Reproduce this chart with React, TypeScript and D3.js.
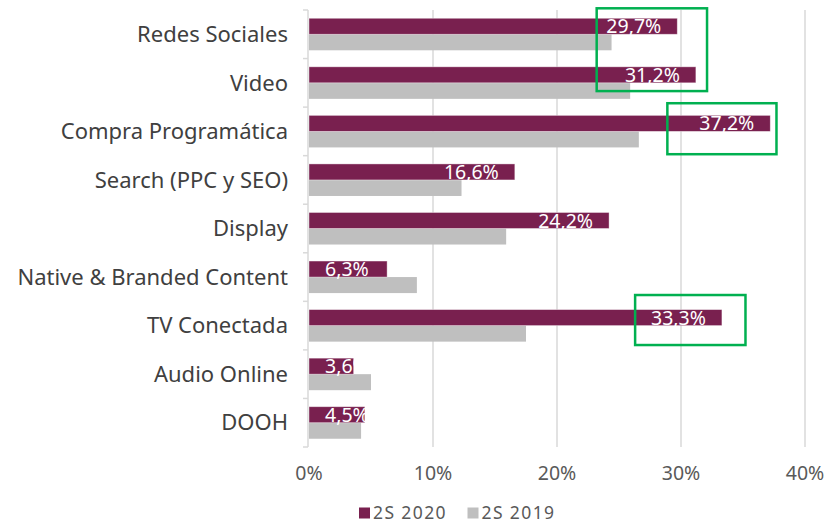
import { useEffect, useRef } from 'react';
import * as d3 from 'd3';

const categories = [
  'Redes Sociales',
  'Video',
  'Compra Programática',
  'Search (PPC y SEO)',
  'Display',
  'Native & Branded Content',
  'TV Conectada',
  'Audio Online',
  'DOOH',
];
const series2020 = [29.7, 31.2, 37.2, 16.6, 24.2, 6.3, 33.3, 3.6, 4.5];
const series2019 = [24.4, 25.9, 26.6, 12.3, 15.9, 8.7, 17.5, 5.0, 4.2];
const xTicks = [0, 10, 20, 30, 40];
const legendLabels = ['2S 2020', '2S 2019'];

// green highlight boxes: [x0 %, x1 %, top category, top fraction, bottom category, bottom fraction]
const highlights: [number, number, string, number, string, number][] = [
  [23.2, 32.1, 'Redes Sociales', -0.035, 'Video', 0.67],
  [28.9, 37.7, 'Video', 0.92, 'Compra Programática', 0.97],
  [26.3, 35.2, 'Native & Branded Content', 0.87, 'TV Conectada', 0.9],
];

const W = 827;
const H = 523;
const MAROON = '#79204F';
const GRAY = '#BFBFBF';
const FONT = '"Noto Sans", "Open Sans", sans-serif';

export default function App() {
  const svgRef = useRef<SVGSVGElement>(null);

  useEffect(() => {
    if (!svgRef.current) return;
    const svg = d3.select(svgRef.current);
    svg.selectAll('*').remove();

    const x = d3.scaleLinear().domain([0, 40]).range([309, 805]);
    const y = d3.scaleBand<string>().domain(categories).range([10, 447]).padding(0);
    const bw = y.bandwidth();
    const barH = bw * 0.33;
    const off = bw * 0.17;

    // gridlines
    svg.append('g')
      .selectAll('line')
      .data(xTicks.slice(1))
      .enter()
      .append('line')
      .attr('x1', d => x(d))
      .attr('x2', d => x(d))
      .attr('y1', 10)
      .attr('y2', 447)
      .attr('stroke', '#D9D9D9')
      .attr('stroke-width', 1.5);

    // left axis with category ticks
    const axis = svg.append('g').attr('stroke', '#D9D9D9').attr('stroke-width', 1.5);
    axis.append('line')
      .attr('x1', x(0) - 1).attr('x2', x(0) - 1)
      .attr('y1', 10).attr('y2', 447);
    axis.selectAll('line.tick')
      .data(d3.range(categories.length + 1))
      .enter()
      .append('line')
      .attr('class', 'tick')
      .attr('x1', x(0) - 6).attr('x2', x(0) - 1)
      .attr('y1', i => 10 + i * bw).attr('y2', i => 10 + i * bw);

    // bars
    const rows = categories.map((c, i) => ({ c, v20: series2020[i], v19: series2019[i] }));
    const g = svg.append('g');
    g.selectAll('rect.b19')
      .data(rows)
      .enter()
      .append('rect')
      .attr('x', x(0))
      .attr('y', d => y(d.c)! + off + barH)
      .attr('width', d => x(d.v19) - x(0))
      .attr('height', barH)
      .attr('fill', GRAY);
    g.selectAll('rect.b20')
      .data(rows)
      .enter()
      .append('rect')
      .attr('x', x(0))
      .attr('y', d => y(d.c)! + off)
      .attr('width', d => x(d.v20) - x(0))
      .attr('height', barH)
      .attr('fill', MAROON)
      .attr('stroke', '#ffffff')
      .attr('stroke-opacity', 0.5)
      .attr('stroke-width', 0.8);

    // value labels (white, inside end)
    const fmt = (v: number) => v.toFixed(1).replace('.', ',') + '%';
    g.selectAll('text.lbl')
      .data(rows)
      .enter()
      .append('text')
      .attr('x', d => (x(d.v20) - x(0) < 80 ? x(0) + 16 : x(d.v20) - 16))
      .attr('text-anchor', d => (x(d.v20) - x(0) < 80 ? 'start' : 'end'))
      .attr('y', d => y(d.c)! + off + barH - 1)
      .attr('fill', '#ffffff')
      .attr('font-family', FONT)
      .attr('font-size', 19.5)
      .text(d => fmt(d.v20));

    // category labels
    svg.append('g')
      .selectAll('text')
      .data(categories)
      .enter()
      .append('text')
      .attr('x', 288)
      .attr('y', d => y(d)! + bw / 2)
      .attr('dy', '0.35em')
      .attr('text-anchor', 'end')
      .attr('fill', '#404040')
      .attr('font-family', FONT)
      .attr('font-size', 22)
      .text(d => d);

    // x tick labels
    svg.append('g')
      .selectAll('text')
      .data(xTicks)
      .enter()
      .append('text')
      .attr('x', d => x(d))
      .attr('y', 480)
      .attr('text-anchor', 'middle')
      .attr('fill', '#595959')
      .attr('font-family', FONT)
      .attr('font-size', 19.5)
      .text(d => `${d}%`);

    // legend
    const legend = svg.append('g');
    const lx = [359, 467.5];
    legendLabels.forEach((l, i) => {
      legend.append('rect')
        .attr('x', lx[i]).attr('y', 507.5)
        .attr('width', 11).attr('height', 11)
        .attr('fill', i === 0 ? MAROON : GRAY);
      legend.append('text')
        .attr('x', lx[i] + 14).attr('y', 518.5)
        .attr('fill', '#595959')
        .attr('font-family', FONT)
        .attr('font-size', 17.5)
        .attr('letter-spacing', 1.4)
        .text(l);
    });

    // green highlight boxes
    svg.append('g')
      .selectAll('rect')
      .data(highlights)
      .enter()
      .append('rect')
      .attr('x', d => x(d[0]))
      .attr('y', d => y(d[2])! + d[3] * bw)
      .attr('width', d => x(d[1]) - x(d[0]))
      .attr('height', d => y(d[4])! + d[5] * bw - (y(d[2])! + d[3] * bw))
      .attr('fill', 'none')
      .attr('stroke', '#00B050')
      .attr('stroke-width', 2.5);
  }, []);

  return (
    <svg
      ref={svgRef}
      width={W}
      height={H}
      style={{ position: 'absolute', left: 0, top: 0, background: '#fff' }}
    />
  );
}
